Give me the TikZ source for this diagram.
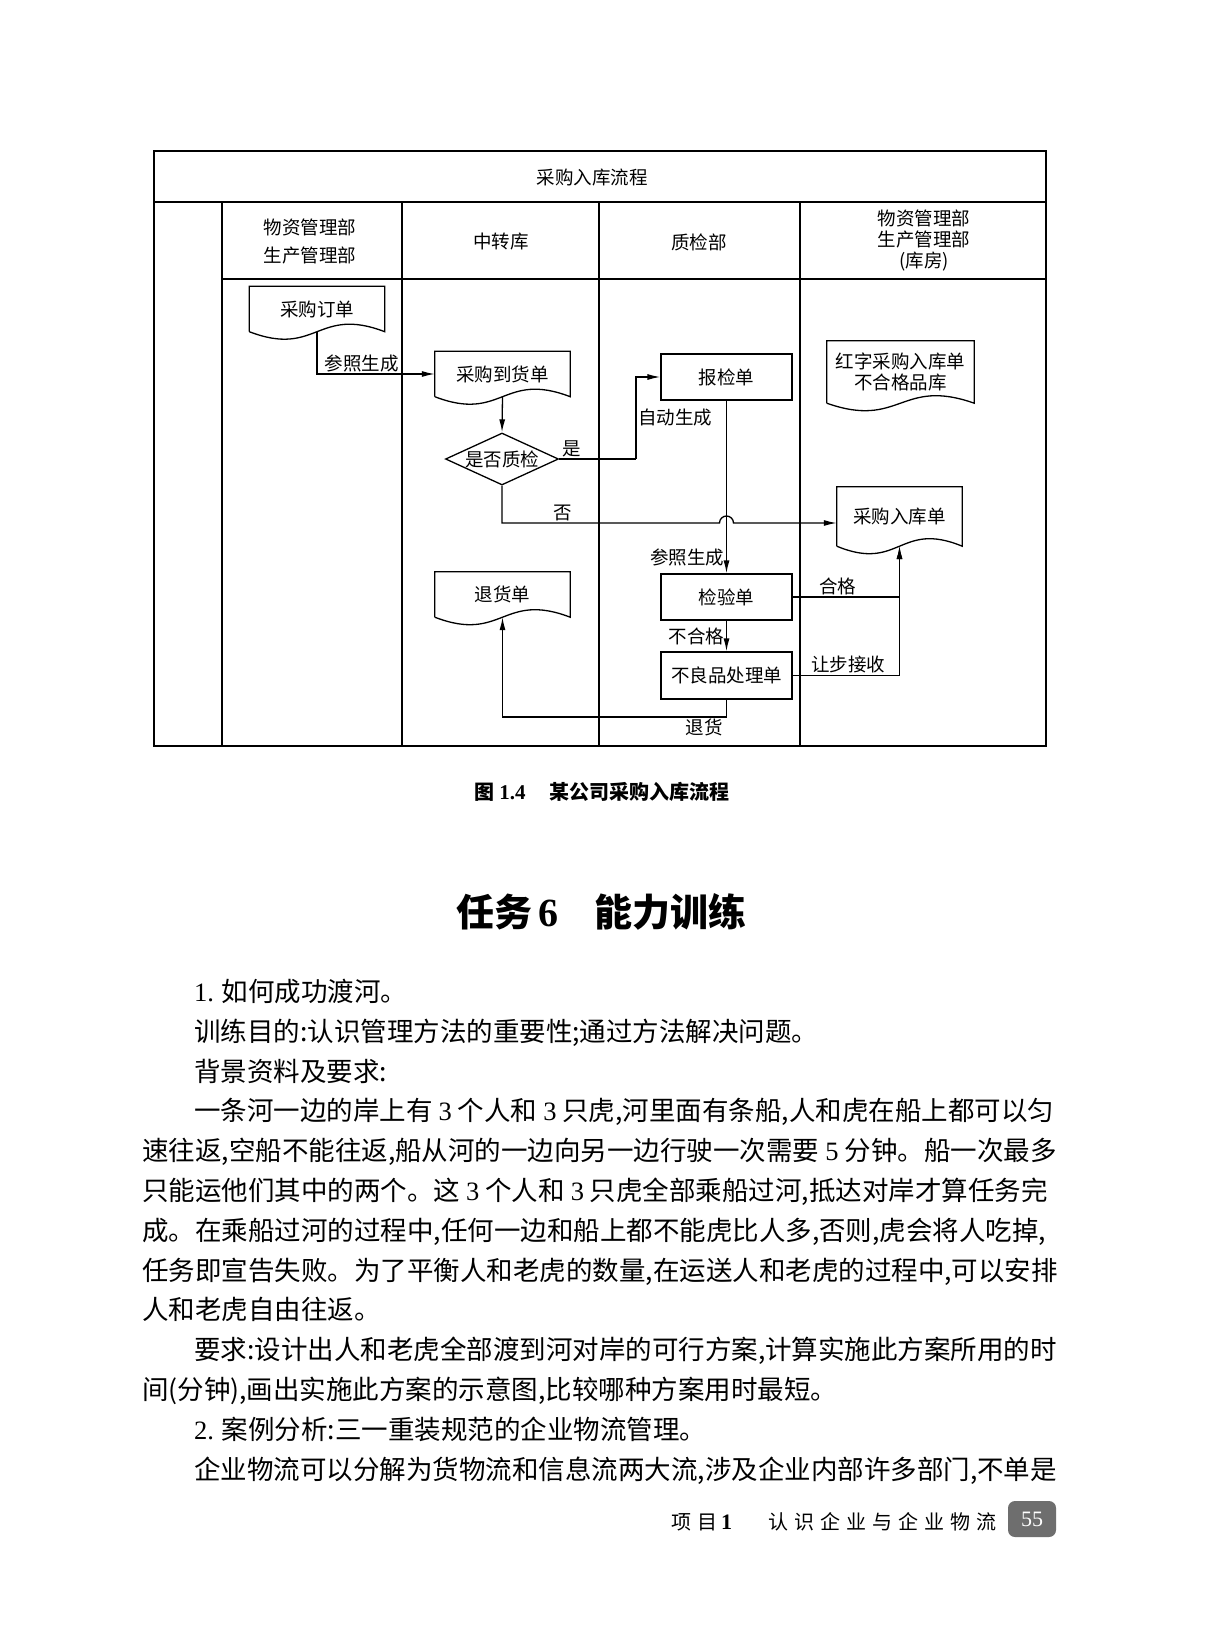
\documentclass[tikz,border=0pt]{standalone}
\usepackage{fontspec}
\setmainfont{Liberation Serif}
\newfontfamily\cjk{Noto Sans CJK SC}
\newfontfamily\cjkspaced[LetterSpace=30]{Noto Sans CJK SC}
\usepackage{xcolor}
\definecolor{PageGray}{HTML}{6E6E6E}
\usetikzlibrary{arrows.meta,shapes.geometric,calc}
\newcommand{\latn}[1]{{\rmfamily #1}}
\newcommand{\diagfont}{\cjk\fontsize{18.5}{21}\selectfont}
\newcommand{\txtfont}{\cjk\fontsize{26.5}{30}\selectfont}
% document outline with a wavy bottom edge
\newcommand{\drawdoc}[1]{%
  \draw[flow] (#1.south west) -- (#1.north west) -- (#1.north east) -- (#1.south east)
    .. controls ($(#1.south)+(0,-26)$) and ($(#1.south)+(0,26)$) .. (#1.south west);}

\begin{document}
\begin{tikzpicture}[x=1pt,y=-1pt,
  flow/.style={line width=1.3pt},
  outer/.style={line width=2pt},
  lane/.style={line width=1.1pt},
  arr/.style={flow,-{Latex[length=13pt,width=6pt]}},
  box/.style={draw,line width=1.3pt,minimum width=131pt,minimum height=46pt,font=\diagfont},
  doc/.style={minimum width=135pt,minimum height=45pt,inner sep=0pt,align=center,font=\diagfont},
  dec/.style={diamond,draw,line width=1.3pt,minimum width=113pt,minimum height=52pt,
    aspect=2.17,inner sep=0pt,font=\diagfont},
  lbl/.style={font=\diagfont,inner sep=1.5pt},
  head/.style={font=\diagfont,align=center},
  body/.style={anchor=base west,font=\txtfont,inner sep=0pt}]
  \path[fill=white] (0,0) rectangle (1205,1630);
  \useasboundingbox (0,0) rectangle (1205,1630);

  % swimlane table
  \draw[outer] (154,151) rectangle (1046,746);
  \draw[lane] (154,202) -- (1046,202);
  \draw[lane] (222,279) -- (1046,279);
  \foreach \x in {222,402,599,800}
    \draw[lane] (\x,202) -- (\x,746);
  \node[head] (title) at (592,178) {采购入库流程};
  \node[head] (lane1) at (310,241) {物资管理部\\[7pt]生产管理部};
  \node[head] (lane2) at (501,242) {中转库};
  \node[head] (lane3) at (699,242) {质检部};
  \node[head] (lane4) at (924,241) {物资管理部\\生产管理部\\(库房)};

  % steps
  \node[doc] (po) at (317,309) {采购订单};
  \node[doc] (arrival) at (502.5,374) {采购到货单};
  \node[dec] (q) at (502,459) {是否质检};
  \node[box] (insp) at (726.5,377) {报检单};
  \node[doc,minimum width=147pt,minimum height=62pt] (redin) at (900.5,372)
    {红字采购入库单\\不合格品库};
  \node[doc,minimum width=125pt,minimum height=59pt] (in) at (899.5,516.5) {采购入库单};
  \node[doc] (ret) at (502.5,594.5) {退货单};
  \node[box] (check) at (726.5,597) {检验单};
  \node[box,minimum height=47pt] (bad) at (726.5,675.5) {不良品处理单};
  \drawdoc{po}
  \drawdoc{arrival}
  \drawdoc{redin}
  \drawdoc{in}
  \drawdoc{ret}

  % connectors
  \coordinate (yesturn) at (636,459);
  \coordinate (hopL) at (719.5,523);
  \coordinate (hopR) at (733.5,523);
  \coordinate (backturn) at (726.5,717);
  \draw[arr] (po.south) |- node[lbl,above,pos=0.69]{参照生成} (arrival.west);
  \draw[arr] (arrival.south) -- (q.north);
  \draw[flow] (q.east) -- node[lbl,above,pos=0.17]{是} (yesturn);
  \draw[arr] (yesturn) |- node[lbl,right,pos=0.25]{自动生成} (insp.west);
  \draw[arr] (insp.south) -- node[lbl,left,pos=0.91]{参照生成} (check.north);
  \draw[arr] (q.south) |- node[lbl,above,pos=0.64]{否} (hopL)
    arc[start angle=180,end angle=0,radius=7pt] -- (in.west |- hopR);
  \draw[arr] (check.east) -| node[lbl,above,pos=0.21]{合格} (in.south);
  \draw[arr] (check.south) -- node[lbl,left]{不合格} (bad.north);
  \draw[arr] (bad.east) -| node[lbl,above,pos=0.26]{让步接收} (in.south);
  \draw[arr] (bad.south) -- (backturn) -| node[lbl,below,pos=0.05]{退货} (ret.south);

  % caption and section title
  \node[font=\cjk\bfseries\fontsize{20}{24}\selectfont] (caption) at (602,792)
    {图\hspace{5pt}\latn{\fontsize{21}{24}\selectfont 1.4}\hspace{24pt}某公司采购入库流程};
  \node[font=\cjk\bfseries\fontsize{38}{44}\selectfont] (task) at (601,912)
    {任务\hspace{6pt}\latn{\fontsize{40}{44}\selectfont 6}\hspace{36pt}能力训练};

  % body text
  \foreach \x/\t [count=\i] in {
    194/{\latn{1.} 如何成功渡河。},
    194/{训练目的:认识管理方法的重要性;通过方法解决问题。},
    194/{背景资料及要求:},
    194/{一条河一边的岸上有 \latn{3} 个人和 \latn{3} 只虎,河里面有条船,人和虎在船上都可以匀},
    142/{速往返,空船不能往返,船从河的一边向另一边行驶一次需要 \latn{5} 分钟。船一次最多},
    142/{只能运他们其中的两个。这 \latn{3} 个人和 \latn{3} 只虎全部乘船过河,抵达对岸才算任务完},
    142/{成。在乘船过河的过程中,任何一边和船上都不能虎比人多,否则,虎会将人吃掉,},
    142/{任务即宣告失败。为了平衡人和老虎的数量,在运送人和老虎的过程中,可以安排},
    142/{人和老虎自由往返。},
    194/{要求:设计出人和老虎全部渡到河对岸的可行方案,计算实施此方案所用的时},
    142/{间(分钟),画出实施此方案的示意图,比较哪种方案用时最短。},
    194/{\latn{2.} 案例分析:三一重装规范的企业物流管理。},
    194/{企业物流可以分解为货物流和信息流两大流,涉及企业内部许多部门,不单是}}
    \node[body] (ln\i) at (\x,1001.5+39.8*\i-39.8) {\t};

  % running footer
  \node[anchor=west,inner sep=0pt,font=\cjkspaced\fontsize{20}{24}\selectfont] (proj)
    at (671,1522) {项目\hspace{4pt}\latn{\bfseries\fontsize{22}{24}\selectfont 1}};
  \node[anchor=west,inner sep=0pt,font=\cjkspaced\fontsize{20}{24}\selectfont] (chap)
    at (768,1522) {认识企业与企业物流};
  \node[fill=PageGray,rounded corners=7pt,minimum width=48pt,minimum height=36pt,
    text=white,font=\rmfamily\fontsize{22}{24}\selectfont] (page) at (1032,1519) {55};
\end{tikzpicture}
\end{document}
